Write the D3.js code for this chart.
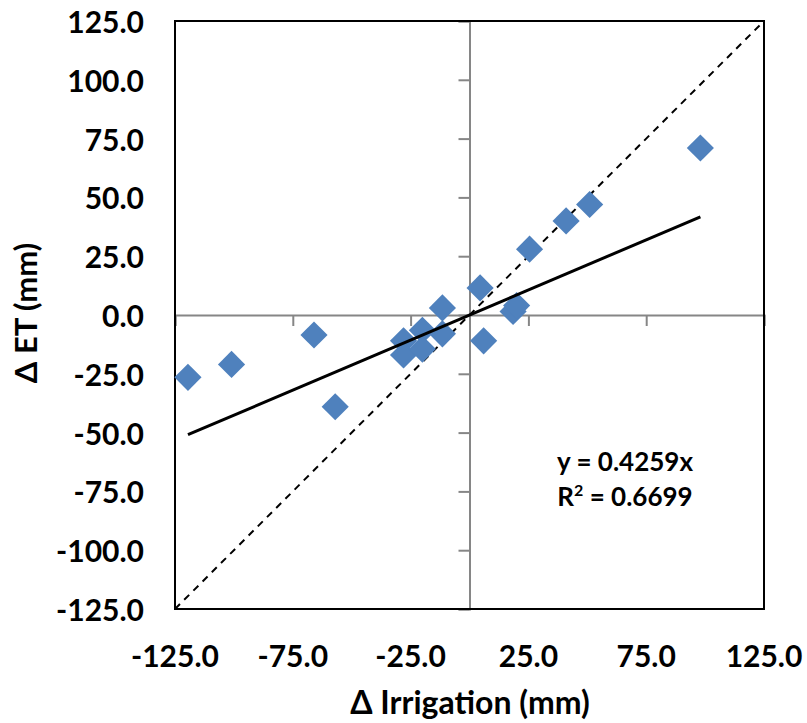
<!DOCTYPE html>
<html>
<head>
<meta charset="utf-8">
<script src="https://cdn.jsdelivr.net/npm/d3@7"></script>
<style>
  body { margin: 0; background: #fff; }
  text { font-family: Lato, "Open Sans", sans-serif; font-weight: bold; fill: #000; }
</style>
</head>
<body>
<div id="chart"></div>
<script>
// change in irrigation (mm) and change in ET (mm)
const dIrrigation = [-119.5, -101, -66, -57, -28, -28, -20, -20, -11.5, -11.5, 4.5, 6, 18.5, 20, 25.5, 41, 51, 98]
const dET = [-26.5, -21, -8.5, -39, -11, -17, -6.5, -14.5, 3, -8, 11.5, -11, 1.5, 4, 28, 40, 47, 71]

const xTickLabels = [-125, -75, -25, 25, 75, 125]
const yTickLabels = [-125, -100, -75, -50, -25, 0, 25, 50, 75, 100, 125]
const slope = 0.4259
const rSquared = 0.6699

const W = 807, H = 723
const MARGIN = {left: 175, top: 21, right: 43, bottom: 114}
const fmt = d => d.toFixed(1)

const svg = d3.select("#chart").append("svg")
  .attr("width", W).attr("height", H)

const x = d3.scaleLinear().domain([-125, 125]).range([MARGIN.left, W - MARGIN.right])
const y = d3.scaleLinear().domain([-125, 125]).range([H - MARGIN.bottom, MARGIN.top])

// axes through the origin
svg.append("g")
  .attr("transform", `translate(0,${y(0)})`)
  .call(d3.axisBottom(x).tickValues(d3.range(-125, 126, 50)).tickSize(11).tickFormat(""))
  .call(g => g.selectAll("line, path").attr("stroke", "#868686").attr("stroke-width", 2))

svg.append("g")
  .attr("transform", `translate(${x(0)},0)`)
  .call(d3.axisLeft(y).tickValues(d3.range(-125, 126, 25)).tickSize(11).tickFormat(""))
  .call(g => g.selectAll("line, path").attr("stroke", "#868686").attr("stroke-width", 2))

// plot border
svg.append("rect")
  .attr("x", x(-125)).attr("y", y(125))
  .attr("width", x(125) - x(-125)).attr("height", y(-125) - y(125))
  .attr("fill", "none").attr("stroke", "#000").attr("stroke-width", 2)

// 1:1 line
svg.append("line")
  .attr("x1", x(-125)).attr("y1", y(-125))
  .attr("x2", x(125)).attr("y2", y(125))
  .attr("stroke", "#000").attr("stroke-width", 2).attr("stroke-dasharray", "7,6")

// points
svg.append("g").selectAll("path")
  .data(dIrrigation.map((d, i) => [d, dET[i]]))
  .join("path")
  .attr("d", d3.symbol(d3.symbolDiamond2, 470))
  .attr("transform", d => `translate(${x(d[0])},${y(d[1])})`)
  .attr("fill", "#4F81BD")

// trendline through origin
const xExt = d3.extent(dIrrigation)
svg.append("line")
  .attr("x1", x(xExt[0])).attr("y1", y(slope * xExt[0]))
  .attr("x2", x(xExt[1])).attr("y2", y(slope * xExt[1]))
  .attr("stroke", "#000").attr("stroke-width", 3)

// tick labels
svg.append("g").selectAll("text")
  .data(xTickLabels)
  .join("text")
  .attr("x", d => x(d)).attr("y", 655)
  .attr("text-anchor", "middle").attr("dominant-baseline", "central")
  .style("font-size", "30px")
  .text(fmt)

svg.append("g").selectAll("text")
  .data(yTickLabels)
  .join("text")
  .attr("x", 144).attr("y", d => y(d))
  .attr("text-anchor", "end").attr("dominant-baseline", "central")
  .style("font-size", "30px")
  .text(fmt)

// axis titles
svg.append("text")
  .attr("x", 470).attr("y", 701)
  .attr("text-anchor", "middle").attr("dominant-baseline", "central")
  .style("font-size", "32px")
  .text("Δ Irrigation (mm)")

svg.append("text")
  .attr("transform", "translate(25,313) rotate(-90)")
  .attr("text-anchor", "middle").attr("dominant-baseline", "central")
  .style("font-size", "31px")
  .text("Δ ET (mm)")

// equation
svg.append("text")
  .attr("x", 625).attr("y", 461)
  .attr("text-anchor", "middle").attr("dominant-baseline", "central")
  .style("font-size", "26px")
  .text(`y = ${slope}x`)

const r2 = svg.append("text")
  .attr("x", 625).attr("y", 496)
  .attr("text-anchor", "middle").attr("dominant-baseline", "central")
  .style("font-size", "26px")
r2.append("tspan").text("R")
r2.append("tspan").attr("dy", -7).style("font-size", "16px").text("2")
r2.append("tspan").attr("dy", 7).text(` = ${rSquared}`)
</script>
</body>
</html>
